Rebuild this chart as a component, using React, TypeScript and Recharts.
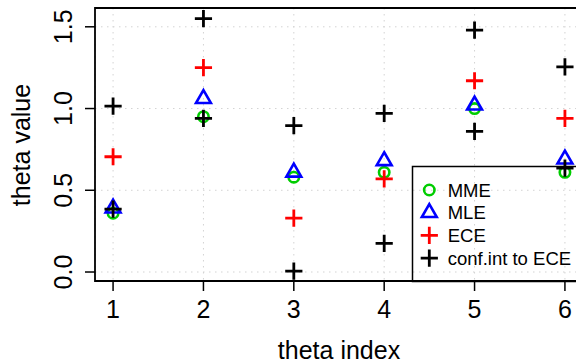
import React from 'react';
import { ScatterChart, Scatter, XAxis, YAxis, CartesianGrid, ReferenceArea, Legend, Label } from 'recharts';

const indices = [1, 2, 3, 4, 5, 6];
const mme = [0.36, 0.95, 0.58, 0.61, 1.0, 0.61];
const mle = [0.39, 1.06, 0.61, 0.68, 1.02, 0.69];
const ece = [0.705, 1.25, 0.33, 0.57, 1.17, 0.94];
const confLower = [0.385, 0.94, 0.005, 0.175, 0.86, 0.635];
const confUpper = [1.015, 1.55, 0.895, 0.97, 1.48, 1.255];
const xTicks = [1, 2, 3, 4, 5, 6];
const yTicks = [0, 0.5, 1, 1.5];
const yTickLabels = ['0.0', '0.5', '1.0', '1.5'];
const legendNames = ['MME', 'MLE', 'ECE', 'conf.int to ECE'];

const GREEN = '#00CD00';
const BLUE = '#0000FF';
const RED = '#FF0000';
const BLACK = '#000000';
const FONT = '"Liberation Sans", Arial, Helvetica, sans-serif';

const toPoints = (vals: number[]) => indices.map((x, i) => ({ x, y: vals[i] }));
const mmeData = toPoints(mme);
const mleData = toPoints(mle);
const eceData = toPoints(ece);
const confData = [...toPoints(confLower), ...toPoints(confUpper)];

const Circle = ({ cx, cy, color }: any) => (
  <circle cx={cx} cy={cy} r={5.2} fill="none" stroke={color} strokeWidth={2.6} />
);
const Triangle = ({ cx, cy, color }: any) => {
  const r = 8.6;
  const h = r * Math.sqrt(3) / 2;
  const d = `M${cx},${cy - r} L${cx + h},${cy + r / 2} L${cx - h},${cy + r / 2} Z`;
  return <path d={d} fill="none" stroke={color} strokeWidth={2.6} strokeLinejoin="miter" />;
};
const Plus = ({ cx, cy, color }: any) => {
  const s = 8.6;
  return (
    <path
      d={`M${cx - s},${cy} L${cx + s},${cy} M${cx},${cy - s} L${cx},${cy + s}`}
      stroke={color}
      strokeWidth={2.8}
      fill="none"
    />
  );
};

const XTick = (p: any) => (
  <text x={p.x} y={317.8} textAnchor="middle" fontSize={25} fontFamily={FONT} fill="#000">
    {p.payload.value}
  </text>
);
const YTick = (p: any) => {
  const idx = yTicks.indexOf(p.payload.value);
  const x = 72.5;
  return (
    <text x={x} y={p.y} transform={`rotate(-90, ${x}, ${p.y})`} textAnchor="middle" fontSize={25} fontFamily={FONT} fill="#000">
      {idx >= 0 ? yTickLabels[idx] : p.payload.value}
    </text>
  );
};

const LegendBox = () => {
  const rows = [24, 46.7, 69.4, 92.2];
  const colors = [GREEN, BLUE, RED, BLACK];
  const sx = 17.3;
  return (
    <svg width={190} height={120} style={{ overflow: 'visible', display: 'block' }}>
      <rect x={0.5} y={0.5} width={171} height={115} fill="none" stroke="#000" strokeWidth={1.5} />
      {legendNames.map((name, i) => {
        const cy = rows[i];
        const c = colors[i];
        let sym;
        if (i === 0) sym = <Circle cx={sx} cy={cy} color={c} />;
        else if (i === 1) sym = <Triangle cx={sx} cy={cy} color={c} />;
        else sym = <Plus cx={sx} cy={cy} color={c} />;
        return (
          <g key={name}>
            {sym}
            <text x={35.7} y={cy + 6.6} fontSize={18.5} fontFamily={FONT} fill="#000">
              {name}
            </text>
          </g>
        );
      })}
    </svg>
  );
};

export default function App() {
  return (
    <div style={{ position: 'absolute', left: 0, top: 0, width: 576, height: 363, overflow: 'hidden', background: '#fff' }}>
      <ScatterChart width={600} height={363} margin={{ top: 8, right: 17, bottom: 0, left: 0 }}>
        <CartesianGrid stroke="#D3D3D3" strokeDasharray="1.5 4.5" strokeWidth={1} />
        <XAxis
          type="number"
          dataKey="x"
          domain={[0.8, 6.2]}
          ticks={xTicks}
          height={82}
          axisLine={false}
          tickSize={10}
          tickLine={{ stroke: '#000', strokeWidth: 1.5 }}
          tick={<XTick />}
          allowDataOverflow
        >
          <Label
            content={() => (
              <text x={339} y={359.3} textAnchor="middle" fontSize={25} fontFamily={FONT} fill="#000">
                theta index
              </text>
            )}
          />
        </XAxis>
        <YAxis
          type="number"
          dataKey="y"
          domain={[-0.055, 1.615]}
          ticks={yTicks}
          width={95}
          axisLine={false}
          tickSize={10}
          tickLine={{ stroke: '#000', strokeWidth: 1.5 }}
          tick={<YTick />}
          allowDataOverflow
        >
          <Label
            content={() => (
              <text x={30} y={145} transform="rotate(-90, 30, 145)" textAnchor="middle" fontSize={25} fontFamily={FONT} fill="#000">
                theta value
              </text>
            )}
          />
        </YAxis>
        <ReferenceArea x1={0.8} x2={6.2} y1={-0.055} y2={1.615} fill="none" stroke="#000" strokeWidth={1.8} ifOverflow="visible" />
        <Scatter name="MME" data={mmeData} isAnimationActive={false} shape={(p: any) => <Circle cx={p.cx} cy={p.cy} color={GREEN} />} />
        <Scatter name="MLE" data={mleData} isAnimationActive={false} shape={(p: any) => <Triangle cx={p.cx} cy={p.cy} color={BLUE} />} />
        <Scatter name="ECE" data={eceData} isAnimationActive={false} shape={(p: any) => <Plus cx={p.cx} cy={p.cy} color={RED} />} />
        <Scatter name="conf.int to ECE" data={confData} isAnimationActive={false} shape={(p: any) => <Plus cx={p.cx} cy={p.cy} color={BLACK} />} />
        <Legend
          layout="horizontal"
          align="center"
          verticalAlign="middle"
          content={() => <LegendBox />}
          wrapperStyle={{ position: 'absolute', left: 412, top: 166, width: 190, height: 120, margin: 0, padding: 0 }}
        />
      </ScatterChart>
    </div>
  );
}
